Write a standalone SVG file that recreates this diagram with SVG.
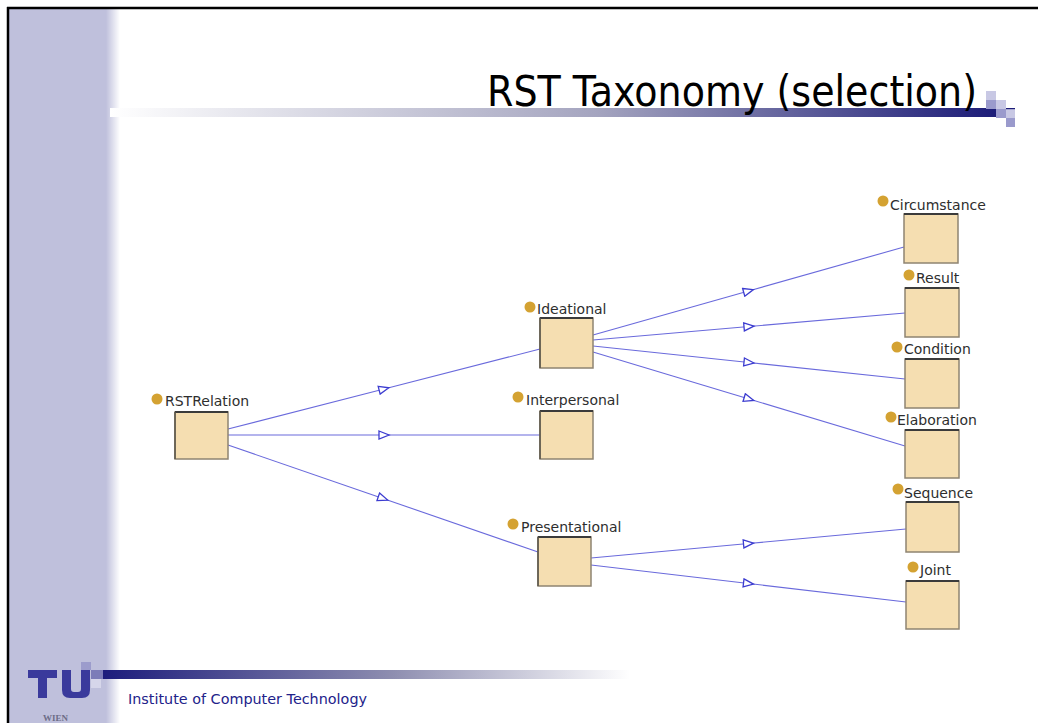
<svg xmlns="http://www.w3.org/2000/svg" width="1038" height="723" viewBox="0 0 1038 723">
<defs>
<style>
.box{fill:#f5deb1;stroke:#8e8472;stroke-width:1.5}
.boxtop{stroke:#3b3b3b;stroke-width:2}
.boxleft{stroke:#5a5448;stroke-width:1.5}
.dot{fill:#d4a232}
.lbl{font-family:"DejaVu Sans",Verdana,sans-serif;font-size:14px;fill:#2e2e2e}
.edge{fill:none;stroke:#6a6adc;stroke-width:1.1;marker-mid:url(#tri)}
</style>
<marker id="tri" markerUnits="userSpaceOnUse" markerWidth="14" markerHeight="10" refX="5" refY="4" orient="auto" viewBox="-1 -1 13 10">
<path d="M0,0 L10,4 L0,8 Z" fill="#ffffff" stroke="#3c3cd0" stroke-width="1.3"/>
</marker>
<linearGradient id="side" x1="0" x2="1" y1="0" y2="0">
<stop offset="0" stop-color="#bfc0dc"/>
<stop offset="1" stop-color="#ffffff"/>
</linearGradient>
<linearGradient id="titlebar" gradientUnits="userSpaceOnUse" x1="110" x2="996" y1="0" y2="0">
<stop offset="0" stop-color="#ffffff"/>
<stop offset="0.55" stop-color="#a4a4bf"/>
<stop offset="1" stop-color="#1c1c78"/>
</linearGradient>
<linearGradient id="footbar" gradientUnits="userSpaceOnUse" x1="103" x2="630" y1="0" y2="0">
<stop offset="0" stop-color="#1c1c7c"/>
<stop offset="0.55" stop-color="#8e8eb0"/>
<stop offset="1" stop-color="#ffffff"/>
</linearGradient>
</defs>
<rect x="0" y="0" width="1038" height="723" fill="#ffffff"/>
<g id="background">
<rect x="9" y="9" width="98" height="714" fill="#bfc0dc"/>
<rect x="106" y="9" width="14" height="714" fill="url(#side)"/>
<line x1="7" y1="8" x2="1038" y2="8" stroke="#000" stroke-width="2.5"/>
<line x1="8" y1="7" x2="8" y2="723" stroke="#000" stroke-width="2.5"/>
</g>
<g id="title">
<rect x="110" y="108" width="886" height="9" fill="url(#titlebar)"/>
<text x="487" y="106" font-family="DejaVu Sans,Verdana,sans-serif" font-size="42" fill="#000" textLength="490" lengthAdjust="spacingAndGlyphs">RST Taxonomy (selection)</text>
<rect x="986" y="91" width="10" height="9" fill="#c8c8e4"/>
<rect x="986" y="100" width="10" height="9" fill="#9a9acc"/>
<rect x="996" y="100" width="10" height="9" fill="#c8c8e4"/>
<rect x="996" y="109" width="10" height="9" fill="#9a9acc"/>
<rect x="1006" y="109" width="9" height="9" fill="#c8c8e4"/>
<rect x="1006" y="108" width="9" height="1.2" fill="#1c1c78"/>
<rect x="1006" y="118" width="9" height="9" fill="#9a9acc"/>
</g>
<g id="footer">
<rect x="103" y="670" width="527" height="9" fill="url(#footbar)"/>
<rect x="28" y="670" width="29" height="8" fill="#3a3a9c"/>
<rect x="38" y="670" width="9" height="28" fill="#3a3a9c"/>
<path d="M62,670 h9 v19 q0,3 3,3 h4 q3,0 3,-3 v-19 h9 v20 q0,8 -8,8 h-12 q-8,0 -8,-8 Z" fill="#3a3a9c"/>
<rect x="81" y="662" width="10" height="8" fill="#9c9ccc"/>
<rect x="91" y="670" width="12" height="9" fill="#7c7cb8"/>
<rect x="91" y="679" width="10" height="9" fill="#d6d6ea"/>
<text x="43" y="721" font-family="Liberation Serif,serif" font-weight="bold" font-size="9" fill="#6c6c88">WIEN</text>
<text x="128" y="704" font-family="DejaVu Sans,Verdana,sans-serif" font-size="13.5" fill="#22228a" textLength="239" lengthAdjust="spacingAndGlyphs">Institute of Computer Technology</text>
</g>
<g id="connectors">
<polyline class="edge" points="228,429 384,389 540,349"/>
<polyline class="edge" points="228,435 384,435 540,435"/>
<polyline class="edge" points="228,445 383,498.5 538,552"/>
<polyline class="edge" points="593,335 748.5,291 904,247"/>
<polyline class="edge" points="593,340 749,326.5 905,313"/>
<polyline class="edge" points="593,346 749,362.5 905,379"/>
<polyline class="edge" points="593,352 749,399 905,446"/>
<polyline class="edge" points="591,558 748.5,543.5 906,529"/>
<polyline class="edge" points="591,565 748.5,583.5 906,602"/>
</g>
<g id="node-RSTRelation">
<circle class="dot" cx="157" cy="399" r="5.5"/>
<text class="lbl" x="165" y="406">RSTRelation</text>
<rect class="box" x="175" y="412" width="53" height="47"/>
<line class="boxtop" x1="175" y1="412" x2="228" y2="412"/>
<line class="boxleft" x1="175" y1="412" x2="175" y2="459"/>
</g>
<g id="node-Ideational">
<circle class="dot" cx="530" cy="307" r="5.5"/>
<text class="lbl" x="537" y="314">Ideational</text>
<rect class="box" x="540" y="318" width="53" height="50"/>
<line class="boxtop" x1="540" y1="318" x2="593" y2="318"/>
<line class="boxleft" x1="540" y1="318" x2="540" y2="368"/>
</g>
<g id="node-Interpersonal">
<circle class="dot" cx="518" cy="397" r="5.5"/>
<text class="lbl" x="526" y="405">Interpersonal</text>
<rect class="box" x="540" y="411" width="53" height="48"/>
<line class="boxtop" x1="540" y1="411" x2="593" y2="411"/>
<line class="boxleft" x1="540" y1="411" x2="540" y2="459"/>
</g>
<g id="node-Presentational">
<circle class="dot" cx="513" cy="524" r="5.5"/>
<text class="lbl" x="521" y="532">Presentational</text>
<rect class="box" x="538" y="537" width="53" height="49"/>
<line class="boxtop" x1="538" y1="537" x2="591" y2="537"/>
<line class="boxleft" x1="538" y1="537" x2="538" y2="586"/>
</g>
<g id="node-Circumstance">
<circle class="dot" cx="883" cy="201" r="5.5"/>
<text class="lbl" x="890" y="210">Circumstance</text>
<rect class="box" x="904" y="214" width="54" height="49"/>
<line class="boxtop" x1="904" y1="214" x2="958" y2="214"/>
</g>
<g id="node-Result">
<circle class="dot" cx="909" cy="275" r="5.5"/>
<text class="lbl" x="916" y="283">Result</text>
<rect class="box" x="905" y="288" width="54" height="49"/>
<line class="boxtop" x1="905" y1="288" x2="959" y2="288"/>
</g>
<g id="node-Condition">
<circle class="dot" cx="897" cy="347" r="5.5"/>
<text class="lbl" x="904" y="354">Condition</text>
<rect class="box" x="905" y="359" width="54" height="49"/>
<line class="boxtop" x1="905" y1="359" x2="959" y2="359"/>
</g>
<g id="node-Elaboration">
<circle class="dot" cx="891" cy="417" r="5.5"/>
<text class="lbl" x="897" y="425">Elaboration</text>
<rect class="box" x="905" y="430" width="54" height="48"/>
<line class="boxtop" x1="905" y1="430" x2="959" y2="430"/>
</g>
<g id="node-Sequence">
<circle class="dot" cx="898" cy="489" r="5.5"/>
<text class="lbl" x="904" y="498">Sequence</text>
<rect class="box" x="906" y="502" width="53" height="50"/>
<line class="boxtop" x1="906" y1="502" x2="959" y2="502"/>
</g>
<g id="node-Joint">
<circle class="dot" cx="913" cy="567" r="5.5"/>
<text class="lbl" x="920" y="575">Joint</text>
<rect class="box" x="906" y="581" width="53" height="48"/>
<line class="boxtop" x1="906" y1="581" x2="959" y2="581"/>
</g>
</svg>
